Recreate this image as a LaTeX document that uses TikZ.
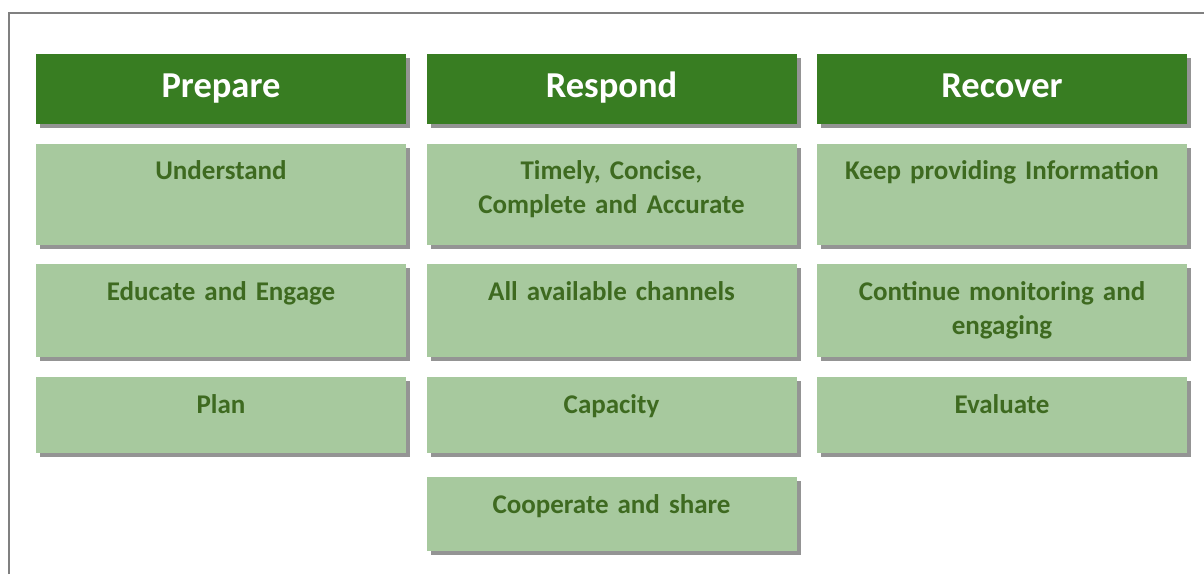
\documentclass[tikz,border=0pt]{standalone}
\usepackage{fontspec}
\setmainfont{Carlito}
\usetikzlibrary{shadows}
\definecolor{darkgrn}{RGB}{56,125,34}
\definecolor{lightgrn}{RGB}{167,201,158}
\definecolor{textgrn}{RGB}{62,106,32}
\begin{document}
\begin{tikzpicture}[x=1pt, y=1pt,
    shad/.style={drop shadow={shadow xshift=4pt, shadow yshift=-4pt, fill=black!42, opacity=1}},
    phase/.style={rectangle, shad, fill=darkgrn, text=white, minimum width=370pt, minimum height=70pt, inner sep=0pt, text height=25pt, text depth=7pt, font=\fontsize{36.5}{42}\selectfont\bfseries},
    item/.style={rectangle, shad, fill=lightgrn, text=textgrn, text width=370pt, align=center, inner sep=0pt, text height=36pt, text depth=#1, font=\fontsize{27}{34}\selectfont\bfseries}]
    \useasboundingbox (0,0) rectangle (1204,574);
    \draw[line width=2pt, draw=black!50] (9,0) |- (1204,561);

    \node[phase] (prep) at (221,485) {Prepare};
    \node[phase] (resp) at (611.5,485) {Respond};
    \node[phase] (recov) at (1002,485) {Recover};

    \node[item=65pt] (under) at (221,379.5) {Understand};
    \node[item=57pt] (educ) at (221,263.5) {Educate and Engage};
    \node[item=40pt] (plan) at (221,159) {Plan};

    \node[item=65pt] (timely) at (611.5,379.5) {Timely, Concise,\\Complete and Accurate};
    \node[item=57pt] (chan) at (611.5,263.5) {All available channels};
    \node[item=40pt] (capac) at (611.5,159) {Capacity};
    \node[item=38pt] (coop) at (611.5,60) {Cooperate and share};

    \node[item=65pt] (keep) at (1002,379.5) {Keep providing Information};
    \node[item=57pt] (cont) at (1002,263.5) {Continue monitoring and\\engaging};
    \node[item=40pt] (eval) at (1002,159) {Evaluate};
\end{tikzpicture}
\end{document}
